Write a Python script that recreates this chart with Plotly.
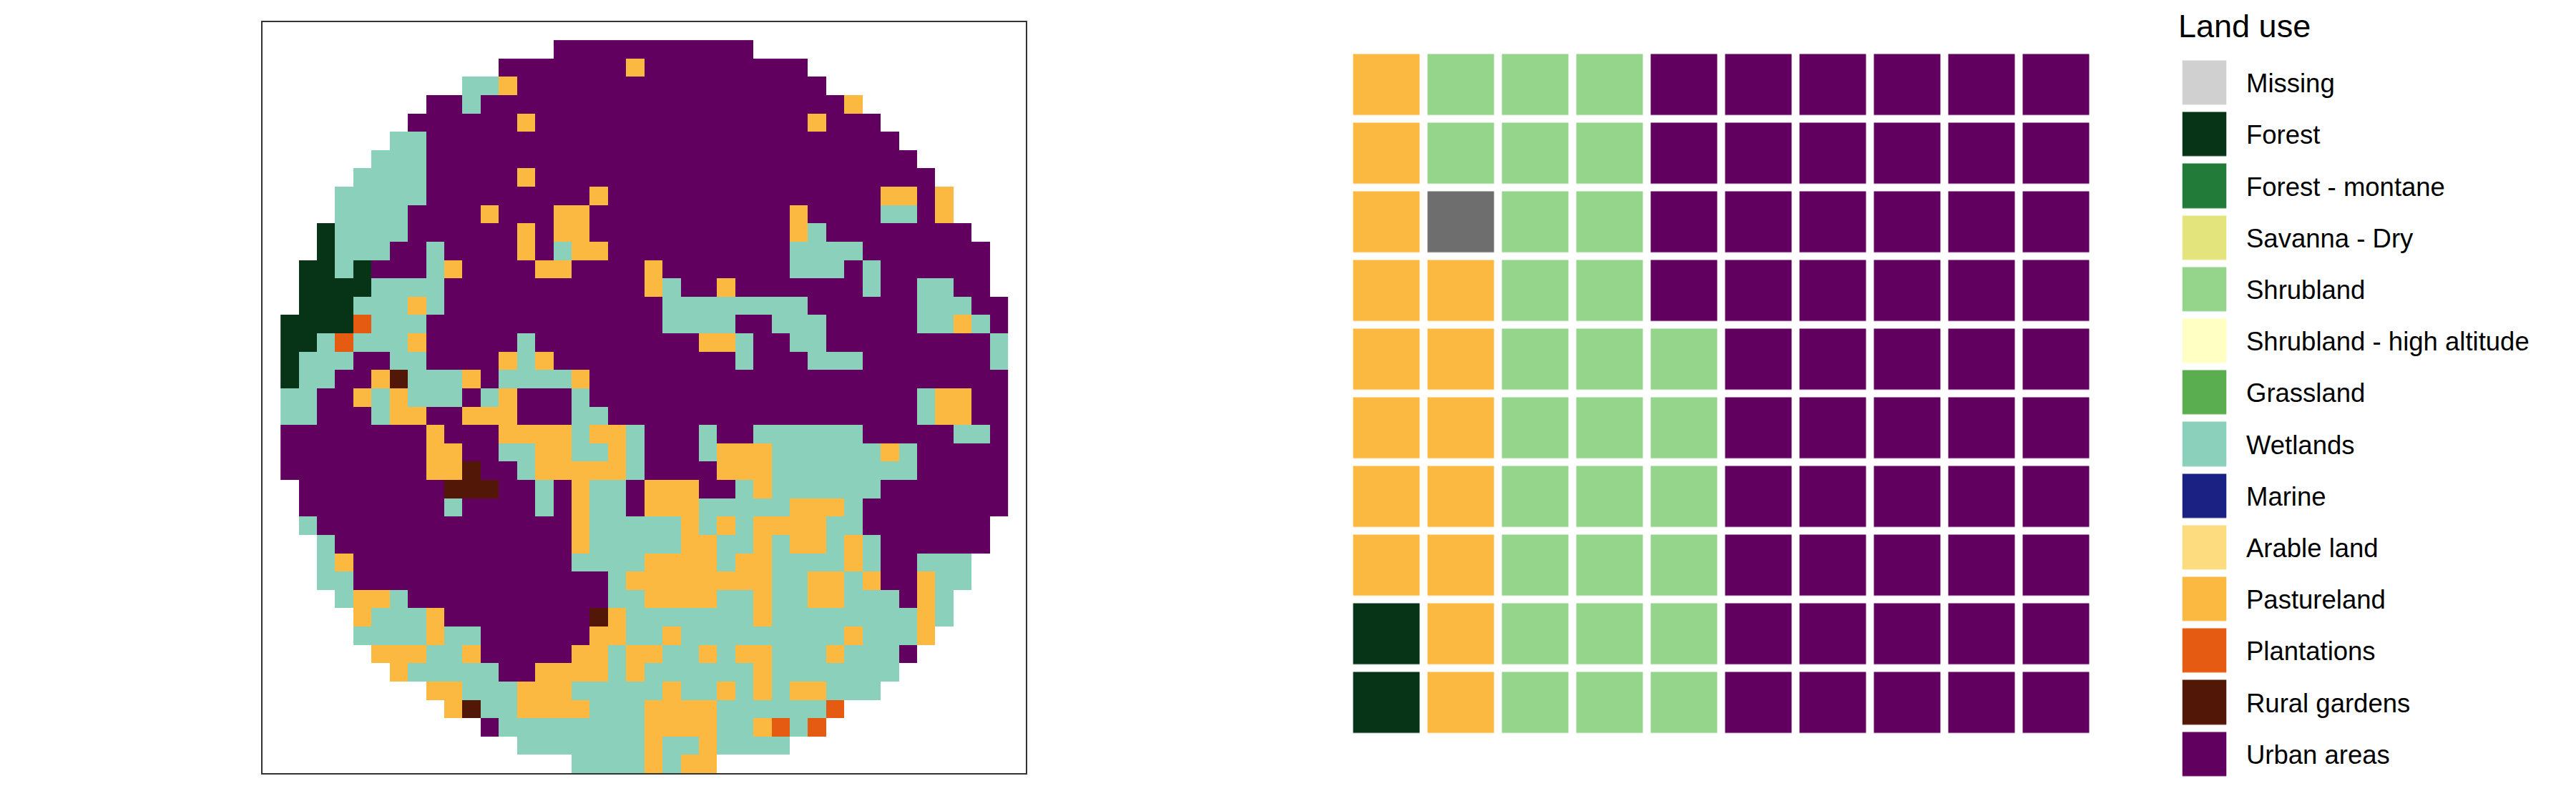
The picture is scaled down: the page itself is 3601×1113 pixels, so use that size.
import plotly.graph_objects as go

W, H = 3601, 1113

land_use = ["Missing", "Forest", "Forest - montane", "Savanna - Dry", "Shrubland",
            "Shrubland - high altitude", "Grassland", "Wetlands", "Marine", "Arable land",
            "Pastureland", "Plantations", "Rural gardens", "Urban areas"]
land_colors = ["#D0D0D0", "#073316", "#227B38", "#E4E47D", "#94D48B", "#FFFFC4", "#5AAE4F",
               "#8AD0BB", "#1B2183", "#FDDB7F", "#FCB941", "#E55B12", "#521707", "#62005F"]
waffle_missing_color = "#6E6E6E"

# map codes: . outside, U urban, W wetlands, P pasture, F forest, L plantations, R rural gardens
code_names = {"U": "Urban areas", "W": "Wetlands", "P": "Pastureland", "F": "Forest",
              "L": "Plantations", "R": "Rural gardens", "S": "Shrubland", "M": "Missing"}

map_rows = [
    ".......... .....UUUUU UUUUUU.... ..........",
    ".......... ..UUUUUUUP UUUUUUUUU. ..........",
    ".......... WWPUUUUUUU UUUUUUUUUU ..........",
    "........UU WUUUUUUUUU UUUUUUUUUU UP........",
    ".......UUU UUUPUUUUUU UUUUUUUUUP UUU.......",
    "......WWUU UUUUUUUUUU UUUUUUUUUU UUUU......",
    ".....WWWUU UUUUUUUUUU UUUUUUUUUU UUUUU.....",
    "....WWWWUU UUUPUUUUUU UUUUUUUUUU UUUUUU....",
    "...WWWWWUU UUUUUUUPUU UUUUUUUUUU UUUPPUP...",
    "...WWWWUUU UPUUUPPUUU UUUUUUUUPU UUUWWUP...",
    "..FWWWWUUU UUUPUPPUUU UUUUUUUUPW UUUUUUUU..",
    "..FWWWUUWU UUUPUWPPUU UUUUUUUUWW WWUUUUUUU.",
    ".FFWFUUUWP UUUUPPUUUU PUUUUUUUWW WUWUUUUUU.",
    ".FFFFWWWWU UUUUUUUUUU PWUUPUUUUU UUWUUWWUU.",
    ".FFFWWWPWU UUUUUUUUUU UWWWWWWWWU UUUUUWWWUU",
    "FFFFLWWWUU UUUUUUUUUU UWWWWUUWWW UUUUUWWPWU",
    "FFWLWWWPUU UUUWUUUUUU UUUPPWUUWW UUUUUUUUUW",
    "FWWWUUWWUU UUPWPUUUUU UUUUUWUUUW WWUUUUUUUW",
    "FWWUUPRWWW PUWWWWPUUU UUUUUUUUUU UUUUUUUUUU",
    "WWUUPWPWWW UWPUUUWUUU UUUUUUUUUU UUUUUWPPUU",
    "WWUUUWPPUU PPPUUUWWUU UUUUUUUUUU UUUUUWPPUU",
    "UUUUUUUUPU UUPPPPWPPW UUUWUUWWWW WWUUUUUWWU",
    "UUUUUUUUPP UUWWPPWWPW UUUWPPPWWW WWWPWUUUUU",
    "UUUUUUUUPP RUUWPPPPPW UUUUPPPWWW WWWWWUUUUU",
    ".UUUUUUUUR RRUUWUPWWU PPPUUWPWWW WWWUUUUUUU",
    ".UUUUUUUUW UUUUWUPWWU PPPWWWWWPP PWUUUUUUUU",
    ".WUUUUUUUU UUUUUUPWWW WWPWPWPPPP WWUUUUUUU.",
    "..WUUUUUUU UUUUUUPWWW WWPPWWPWPP WPWUUUUUU.",
    "..WPUUUUUU UUUUUUWWWW PPPPWPPWWW WPWUUWWW..",
    "..WWUUUUUU UUUUUUUUWP PPPPPPPWWP PWPUUPWW..",
    "...WPPWUUU UUUUUUUUWW PPPPWWPWWP PWWWUPW...",
    "....PWWWPU UUUUUUURPW WWWWWWPWWW WWWWWPW...",
    "....WWWWPW WUUUUUUPPW WPWWWWWWWW WPWWWP....",
    ".....PPPWW PUUUUUPPWP PWWPWPPWWW PWWWU.....",
    "......PWWW WWUUPPPPWP WWWWWWPWWW WWWW......",
    "........PP WWWPPPWWWW WPWWPWPWPP WWW.......",
    ".........P RWWPPPPWWW PPPPWWWWWW L.........",
    ".......... .UWWWWWWWW PPPPWWPLWL ..........",
    ".......... ...WWWWWWW PWWPWWWW.. ..........",
    ".......... ......WWWW PWPP...... ..........",
]

waffle_rows = [
    "PSSSUUUUUU",
    "PSSSUUUUUU",
    "PMSSUUUUUU",
    "PPSSUUUUUU",
    "PPSSSUUUUU",
    "PPSSSUUUUU",
    "PPSSSUUUUU",
    "PPSSSUUUUU",
    "FPSSSUUUUU",
    "FPSSSUUUUU",
]


def to_z(rows):
    out = []
    for r in rows:
        r = r.replace(" ", "")
        out.append([land_use.index(code_names[c]) if c != "." else None for c in r])
    return out


def scale(colors):
    n = len(colors)
    cs = []
    for i, c in enumerate(colors):
        cs += [[i / n, c], [(i + 1) / n, c]]
    return cs


def hm(z, colors, xa, ya, **kw):
    return go.Heatmap(z=z, zmin=-0.5, zmax=len(colors) - 0.5, colorscale=scale(colors),
                      showscale=False, hoverinfo="skip", xaxis=xa, yaxis=ya, **kw)


waffle_colors = list(land_colors)
waffle_colors[0] = waffle_missing_color

fig = go.Figure()
fig.add_trace(hm(to_z(map_rows), land_colors, "x", "y"))
fig.add_trace(hm(to_z(waffle_rows), waffle_colors, "x2", "y2", xgap=11, ygap=10.7))
fig.add_trace(hm([[i] for i in range(len(land_use))], land_colors, "x3", "y3", ygap=10.2))


def dx(a, b):
    return [a / W, b / W]


def dy(top, bottom):
    return [1 - bottom / H, 1 - top / H]


hidden = dict(showgrid=False, zeroline=False, showticklabels=False, ticks="", showline=False)
fig.update_layout(
    width=W, height=H, margin=dict(l=0, r=0, t=0, b=0),
    paper_bgcolor="white", plot_bgcolor="white", showlegend=False,
    font=dict(family="Liberation Sans", color="black"),
    xaxis=dict(domain=dx(367, 1434), range=[-1.49, 40.48], showgrid=False, zeroline=False,
               showticklabels=False, ticks="", showline=True, mirror=True,
               linecolor="#333333", linewidth=2),
    yaxis=dict(domain=dy(31, 1081), range=[39.5, -1.48], showgrid=False, zeroline=False,
               showticklabels=False, ticks="", showline=True, mirror=True,
               linecolor="#333333", linewidth=2),
    xaxis2=dict(domain=dx(1886.5, 2926.5), range=[-0.5, 9.5], anchor="y2", **hidden),
    yaxis2=dict(domain=dy(70.5, 1030.5), range=[9.5, -0.5], anchor="x2", **hidden),
    xaxis3=dict(domain=dx(3050.5, 3112.5), range=[-0.5, 0.5], anchor="y3", **hidden),
    yaxis3=dict(domain=dy(79.5, 1090.3), range=[13.5, -0.5], anchor="x3", **hidden),
)

for i, name in enumerate(land_use):
    fig.add_annotation(text=name, x=3138 / W, xref="paper", y=i, yref="y3", xanchor="left",
                       yanchor="middle", yshift=-1, showarrow=False, align="left",
                       font=dict(size=36.5, family="Liberation Sans", color="black"))
fig.add_annotation(text="Land use", x=3043 / W, xref="paper", y=1 - 36 / H, yref="paper",
                   xanchor="left", yanchor="middle", showarrow=False,
                   font=dict(size=45, family="Liberation Sans", color="black"))

fig.write_html("out.html", config={"displayModeBar": False},
               post_script="document.body.style.margin='0';")
